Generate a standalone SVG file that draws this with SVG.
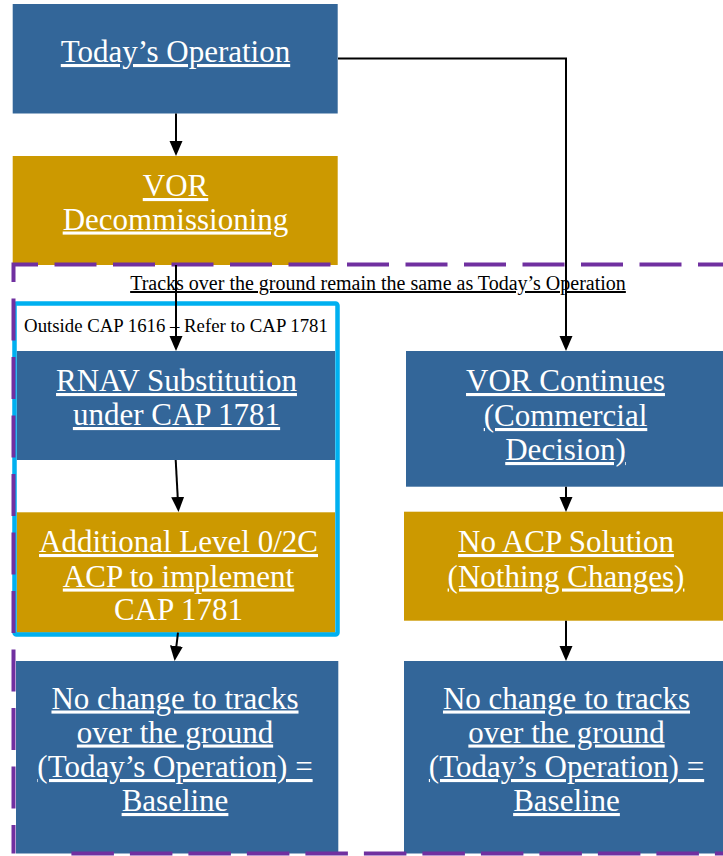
<svg xmlns="http://www.w3.org/2000/svg" width="723" height="856" viewBox="0 0 723 856">
<style>
.blue{fill:#336699}
.gold{fill:#cc9900}
.t{font-family:"Liberation Serif","Times New Roman",serif;font-size:31px;fill:#ffffff;text-anchor:middle}
.u{text-decoration:underline}
.s{font-family:"Liberation Serif","Times New Roman",serif;font-size:20px;fill:#000000;text-anchor:middle}
.c{stroke:#000000;stroke-width:2;fill:none}
</style>
<defs>
<marker id="ah" markerUnits="userSpaceOnUse" markerWidth="15" markerHeight="14" refX="0" refY="6.5" orient="auto">
<path d="M0,0 L15,6.5 L0,13 z" fill="#000000"/>
</marker>
</defs>

<g id="n-today">
<rect class="blue" x="12.7" y="4" width="325" height="109.5"/>
<text class="t u" x="175.5" y="62">Today’s Operation</text>
</g>

<g id="n-decom">
<rect class="gold" x="12.7" y="156" width="325" height="109"/>
<text class="t u" x="175.5" y="196">VOR</text>
<text class="t u" x="175.5" y="229.5">Decommissioning</text>
</g>

<g id="n-rnav">
<rect class="blue" x="16.7" y="351" width="318.3" height="109"/>
<text class="t u" x="176.5" y="391">RNAV Substitution</text>
<text class="t u" x="176.5" y="425">under CAP 1781</text>
</g>

<g id="n-additional">
<rect class="gold" x="16.7" y="512.3" width="318.3" height="120.4"/>
<text class="t u" x="178.5" y="552">Additional Level 0/2C</text>
<text class="t u" x="178.5" y="586.5">ACP to implement</text>
<text class="t" x="178.5" y="619.5">CAP 1781</text>
</g>

<g id="n-nochange-left">
<rect class="blue" x="16" y="661" width="322.3" height="192.5"/>
<text class="t u" x="175" y="708.5">No change to tracks</text>
<text class="t u" x="175" y="742.5">over the ground</text>
<text class="t u" x="175" y="777">(Today’s Operation) =</text>
<text class="t u" x="175" y="811">Baseline</text>
</g>

<g id="n-vorcont">
<rect class="blue" x="406" y="351" width="317" height="135.7"/>
<text class="t u" x="565.5" y="391">VOR Continues</text>
<text class="t u" x="565.5" y="426">(Commercial</text>
<text class="t u" x="565.5" y="460">Decision)</text>
</g>

<g id="n-noacp">
<rect class="gold" x="404" y="511.7" width="319" height="109"/>
<text class="t u" x="566" y="552">No ACP Solution</text>
<text class="t u" x="566" y="586.5">(Nothing Changes)</text>
</g>

<g id="n-nochange-right">
<rect class="blue" x="404" y="661" width="319" height="192.5"/>
<text class="t u" x="566.5" y="708.5">No change to tracks</text>
<text class="t u" x="566.5" y="742.5">over the ground</text>
<text class="t u" x="566.5" y="777">(Today’s Operation) =</text>
<text class="t u" x="566.5" y="811">Baseline</text>
</g>

<g id="n-cap1781-frame">
<rect x="14.5" y="303.5" width="323" height="331" rx="2" ry="2" fill="none" stroke="#00b0f0" stroke-width="4.5"/>
<text class="s" x="176" y="332" style="font-size:18.8px">Outside CAP 1616 – Refer to CAP 1781</text>
</g>

<g id="n-tracks-frame">
<path d="M726,264.5 H13.5 V853.5" fill="none" stroke="#7030a0" stroke-width="4" stroke-dasharray="42 16.5" stroke-dashoffset="14"/>
<path d="M71.4,853.5 H726" fill="none" stroke="#7030a0" stroke-width="4" stroke-dasharray="42.5 16"/>
<text class="s u" x="378" y="290">Tracks over the ground remain the same as Today’s Operation</text>
</g>

<g id="connectors">
<line class="c" x1="176" y1="113.5" x2="176" y2="141" marker-end="url(#ah)"/>
<polyline class="c" points="338,58.5 566,58.5 566,336" marker-end="url(#ah)"/>
<line class="c" x1="176" y1="265" x2="176" y2="336" marker-end="url(#ah)"/>
<line class="c" x1="175.7" y1="460" x2="177.7" y2="497" marker-end="url(#ah)"/>
<line class="c" x1="178" y1="632.7" x2="176.4" y2="646" marker-end="url(#ah)"/>
<line class="c" x1="566" y1="486.7" x2="566" y2="497" marker-end="url(#ah)"/>
<line class="c" x1="566" y1="620.7" x2="566" y2="646" marker-end="url(#ah)"/>
</g>
</svg>
